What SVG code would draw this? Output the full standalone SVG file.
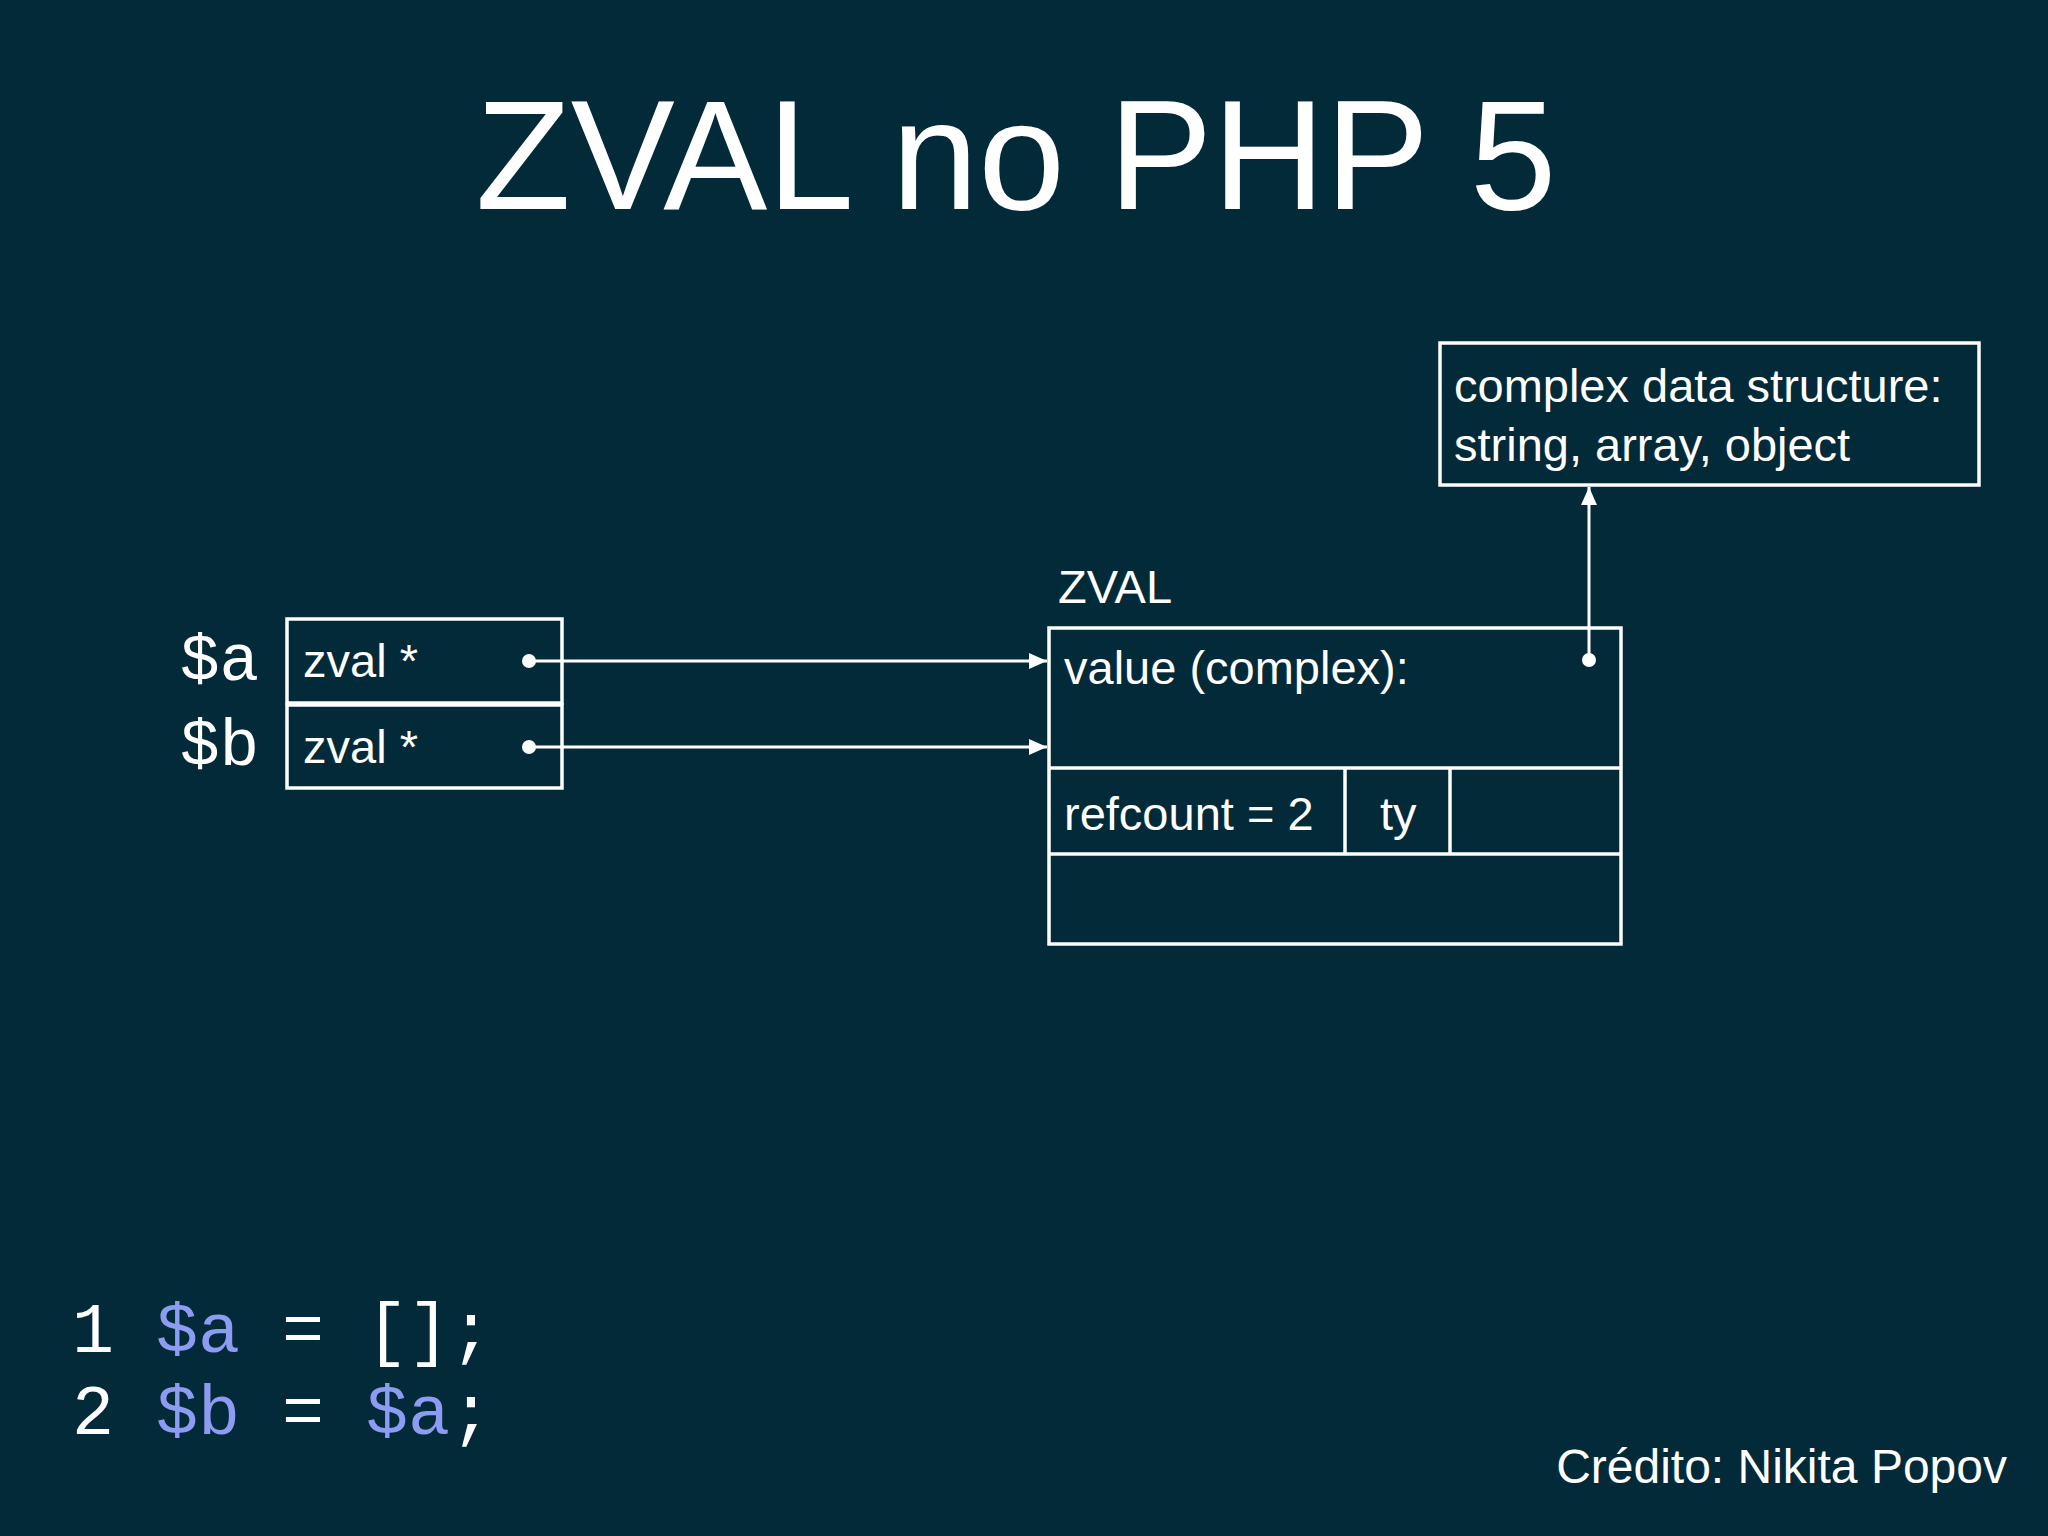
<svg xmlns="http://www.w3.org/2000/svg" width="2048" height="1536" viewBox="0 0 2048 1536">
<style>
.t{font-family:"Liberation Sans",Arial,sans-serif;fill:#fff}
.m{font-family:"Liberation Mono","DejaVu Sans Mono",monospace;fill:#fff}
.v{fill:#8c9cf2}
.b{fill:none;stroke:#fff;stroke-width:3.5}
.c{stroke:#fff;stroke-width:3;fill:none}
</style>
<defs>
<marker id="ah2" markerWidth="20" markerHeight="20" refX="18" refY="8" orient="auto" markerUnits="userSpaceOnUse"><path d="M0,0 L18,8 L0,16 z" fill="#fff"/></marker>
</defs>
<rect width="2048" height="1536" fill="#032a38"/>
<text class="t" x="1016" y="209" font-size="156" text-anchor="middle">ZVAL no PHP 5</text>
<g id="vars">
<text class="m" x="180" y="680" font-size="66">$a</text>
<text class="m" x="180" y="765" font-size="66">$b</text>
</g>
<g id="ptrA"><rect class="b" x="287" y="619" width="275" height="84"/><text class="t" x="303" y="677" font-size="47">zval *</text><circle cx="529" cy="661" r="7" fill="#fff"/></g>
<g id="ptrB"><rect class="b" x="287" y="705" width="275" height="83"/><text class="t" x="303" y="763" font-size="47">zval *</text><circle cx="529" cy="747" r="7" fill="#fff"/></g>
<g id="zval">
<text class="t" x="1058" y="603" font-size="47">ZVAL</text>
<rect class="b" x="1049" y="628" width="572" height="316"/>
<line class="b" x1="1049" y1="768" x2="1621" y2="768"/>
<line class="b" x1="1049" y1="854" x2="1621" y2="854"/>
<line class="b" x1="1345" y1="768" x2="1345" y2="854"/>
<line class="b" x1="1450" y1="768" x2="1450" y2="854"/>
<text class="t" x="1064" y="684" font-size="47">value (complex):</text>
<text class="t" x="1064" y="830" font-size="47">refcount = 2</text>
<text class="t" x="1380" y="830" font-size="47">ty</text>
<circle cx="1589" cy="660" r="7" fill="#fff"/>
</g>
<g id="complex">
<rect class="b" x="1440" y="343" width="539" height="142"/>
<text class="t" x="1454" y="402" font-size="47">complex data structure:</text>
<text class="t" x="1454" y="461" font-size="47">string, array, object</text>
</g>
<g id="connectors">
<line class="c" x1="529" y1="661" x2="1047" y2="661" marker-end="url(#ah2)"/>
<line class="c" x1="529" y1="747" x2="1047" y2="747" marker-end="url(#ah2)"/>
<line class="c" x1="1589" y1="660" x2="1589" y2="487" marker-end="url(#ah2)"/>
</g>
<g id="code">
<text class="m" x="72" y="1352" font-size="70" xml:space="preserve">1 <tspan class="v">$a</tspan> = [];</text>
<text class="m" x="72" y="1434" font-size="70" xml:space="preserve">2 <tspan class="v">$b</tspan> = <tspan class="v">$a</tspan>;</text>
</g>
<text class="t" x="2007" y="1483" font-size="48" text-anchor="end">Crédito: Nikita Popov</text>
</svg>
